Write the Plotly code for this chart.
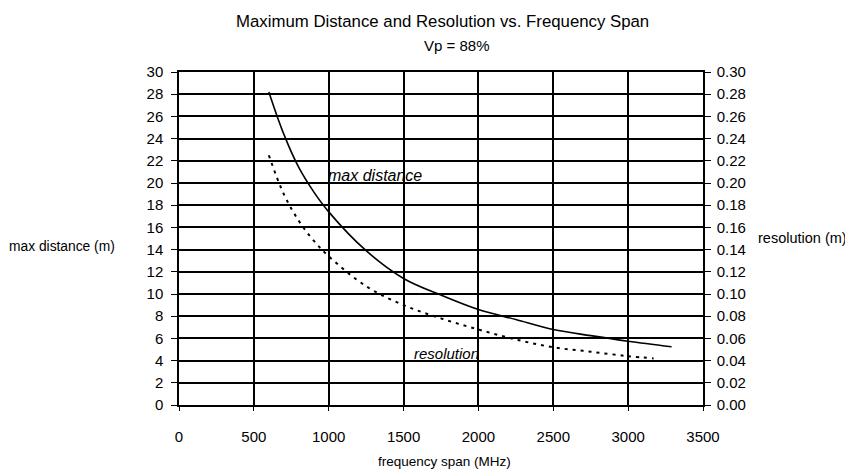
import plotly.graph_objects as go

# Data
freq_dist = [600, 700, 800, 900, 1000, 1250, 1500, 1750, 2000, 2250, 2500, 2750, 3000, 3290]
max_dist = [28.2, 24.4, 21.4, 19.2, 17.4, 13.9, 11.4, 9.9, 8.6, 7.7, 6.8, 6.25, 5.75, 5.25]

freq_res = [600, 700, 800, 900, 1000, 1250, 1500, 1750, 2000, 2250, 2500, 2750, 3000, 3170]
resolution = [0.225, 0.19, 0.166, 0.148, 0.134, 0.107, 0.090, 0.078, 0.068, 0.059,
              0.052, 0.048, 0.044, 0.042]

x_ticks = [0, 500, 1000, 1500, 2000, 2500, 3000, 3500]
y_ticks = list(range(0, 31, 2))
y2_ticks = [v / 100 for v in range(0, 31, 2)]

title_text = "Maximum Distance and Resolution vs. Frequency Span"
subtitle_text = "Vp = 88%"

FONT = "Liberation Sans"

# page body has an 8px default margin; figure sized so window pixels match
OFF = 8
L, R, T, B = 179, 703, 72, 405  # plot area in window pixels
W, H = 853 - OFF, 476 - OFF
PW, PH = R - L, B - T


def px(x):
    return (x - L) / PW


def py(y):
    return (B - y) / PH


fig = go.Figure()
fig.add_trace(go.Scatter(x=freq_dist, y=max_dist, mode="lines", name="max distance",
                         line=dict(color="black", width=1.6, shape="spline", smoothing=1.0),
                         yaxis="y"))
fig.add_trace(go.Scatter(x=freq_res, y=resolution, mode="lines", name="resolution",
                         line=dict(color="black", width=2, dash="3px,5px", shape="spline",
                                   smoothing=1.0),
                         yaxis="y2"))

fig.update_layout(
    width=W, height=H,
    margin=dict(l=L - OFF, r=W - (R - OFF), t=T - OFF, b=H - (B - OFF), autoexpand=False),
    paper_bgcolor="white", plot_bgcolor="white",
    showlegend=False,
    font=dict(family=FONT, color="black", size=13),
    xaxis=dict(range=[0, 3500], tickvals=x_ticks, ticktext=[str(v) for v in x_ticks],
               showgrid=True, gridcolor="black", gridwidth=1.5,
               showline=True, linecolor="black", linewidth=1.5, mirror=True,
               ticks="outside", ticklen=4, tickcolor="black", automargin=False,
               ticklabelstandoff=13, tickfont=dict(size=15), zeroline=False),
    yaxis=dict(range=[0, 30], tickvals=y_ticks, ticktext=[str(v) for v in y_ticks],
               showgrid=True, gridcolor="black", gridwidth=2,
               showline=True, linecolor="black", linewidth=1.5, automargin=False,
               ticks="outside", ticklen=6, tickcolor="black",
               ticklabelstandoff=5, tickfont=dict(size=15), zeroline=False),
    yaxis2=dict(range=[0, 0.30], tickvals=y2_ticks, ticktext=[f"{v:.2f}" for v in y2_ticks],
                overlaying="y", side="right", showgrid=False, automargin=False,
                showline=True, linecolor="black", linewidth=1.5,
                ticks="outside", ticklen=6, tickcolor="black",
                ticklabelstandoff=3, tickfont=dict(size=15), zeroline=False),
    annotations=[
        dict(text=title_text, xref="paper", yref="paper", x=px(442), y=py(21),
             showarrow=False, font=dict(size=16.8), xanchor="center", yanchor="middle"),
        dict(text=subtitle_text, xref="paper", yref="paper", x=px(456), y=py(46),
             showarrow=False, font=dict(size=15), xanchor="center", yanchor="middle"),
        dict(text="max distance (m)", xref="paper", yref="paper", x=px(62), y=py(246),
             showarrow=False, font=dict(size=13.8), xanchor="center", yanchor="middle"),
        dict(text="resolution (m)", xref="paper", yref="paper", x=px(802), y=py(238),
             showarrow=False, font=dict(size=14.5), xanchor="center", yanchor="middle"),
        dict(text="frequency span (MHz)", xref="paper", yref="paper", x=px(444), y=py(461),
             showarrow=False, font=dict(size=13.5), xanchor="center", yanchor="middle"),
        dict(text="<i>max distance</i>", x=1310, y=20, xref="x", yref="y", showarrow=False,
             font=dict(size=16), xanchor="center", yanchor="bottom", yshift=-3),
        dict(text="<i>resolution</i>", x=1790, y=4, xref="x", yref="y", showarrow=False,
             font=dict(size=15), xanchor="center", yanchor="bottom", yshift=-3),
    ],
)

fig.write_html("out.html")
